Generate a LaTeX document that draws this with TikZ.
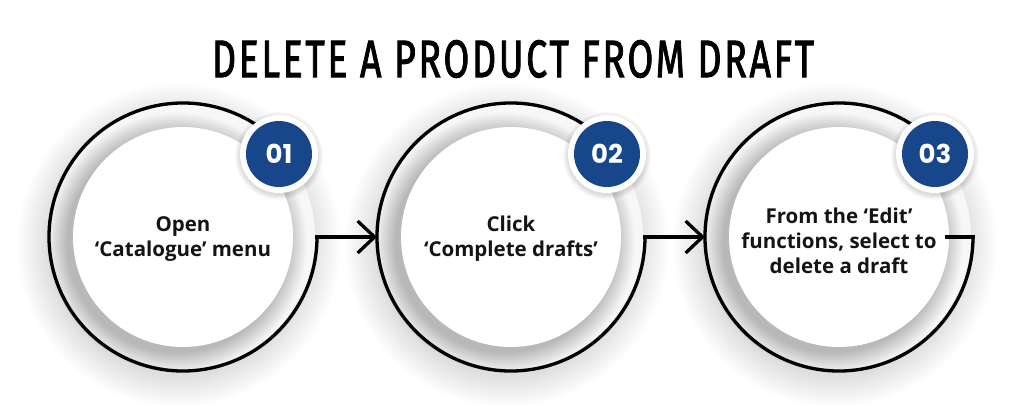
\documentclass[tikz,border=0pt]{standalone}
\usepackage{fontspec}
\usepackage{graphicx}
\setmainfont{Open Sans}
\newfontfamily\badgefont{Poppins}
\newfontfamily\titlefont{Fira Sans}[LetterSpace=7,FakeBold=2]
\usetikzlibrary{arrows.meta}
\definecolor{badgeblue}{HTML}{17478A}
\tikzset{
  ringline/.style={line width=3.3pt, black},
  conn/.style={line width=3.3pt, black, -{Straight Barb[length=17pt,width=32pt]}},
  steptext/.style={align=center, font=\bfseries\fontsize{20.5}{25}\selectfont, text=black!92},
  outerc/.style={circle, minimum size=268pt, inner sep=0pt, outer sep=0pt},
  innerc/.style={circle, fill=white, minimum size=220pt, inner sep=0pt, outer sep=0pt},
  badgering/.style={circle, fill=white, minimum size=78pt, inner sep=0pt},
  badgedisc/.style={circle, fill=badgeblue, minimum size=66pt, inner sep=0pt, text=white,
    font=\badgefont\bfseries\fontsize{26}{26}\selectfont},
}
\begin{document}
\begin{tikzpicture}[x=1pt,y=1pt]
\useasboundingbox (0,0) rectangle (1024,415);
\fill[white] (0,0) rectangle (1024,415);

\node[inner sep=0pt] (title) at (513,356)
  {\resizebox{602pt}{37pt}{\titlefont DELETE A PRODUCT FROM DRAFT}};

\foreach \i/\cx in {1/183,2/511,3/839}{
  % outer halo
  \foreach \r in {162,160,...,132}{
    \fill[black,opacity=0.009] (\cx-4,170) circle (\r);
  }
  % big disc
  \fill[black!3] (\cx,178) circle (132);
  % inner disc shadow
  \foreach \r in {130,129,...,110}{
    \fill[black,opacity=0.013] (\cx-6,172) circle (\r);
  }
  \node[innerc] (in\i) at (\cx,178) {};
  \node[outerc] (c\i) at (\cx,178) {};
  \draw[ringline] (c\i.57) arc (57:360:134);
  % badge shadow
  \foreach \r in {44,43,...,39}{
    \fill[black,opacity=0.025] (\cx+96,259) circle (\r);
  }
  \node[badgering] (b\i) at (\cx+96,261) {};
  \node[badgedisc] (n\i) at (b\i) {0\i};
}

\node[steptext] (t1) at (183,176) {Open\\‘Catalogue’ menu};
\node[steptext] (t2) at (511,176) {Click\\‘Complete drafts’};
\node[steptext] (t3) at (839,174) {From the ‘Edit’\\functions, select to\\delete a draft};

\draw[conn] ([xshift=-1.6pt]c1.east) -- (c2.west);
\draw[conn] ([xshift=-1.6pt]c2.east) -- (c3.west);
\coordinate (stub) at ([xshift=-28pt]c3.east);
\draw[ringline] ([xshift=1.6pt]c3.east) -- (stub);
\end{tikzpicture}
\end{document}
